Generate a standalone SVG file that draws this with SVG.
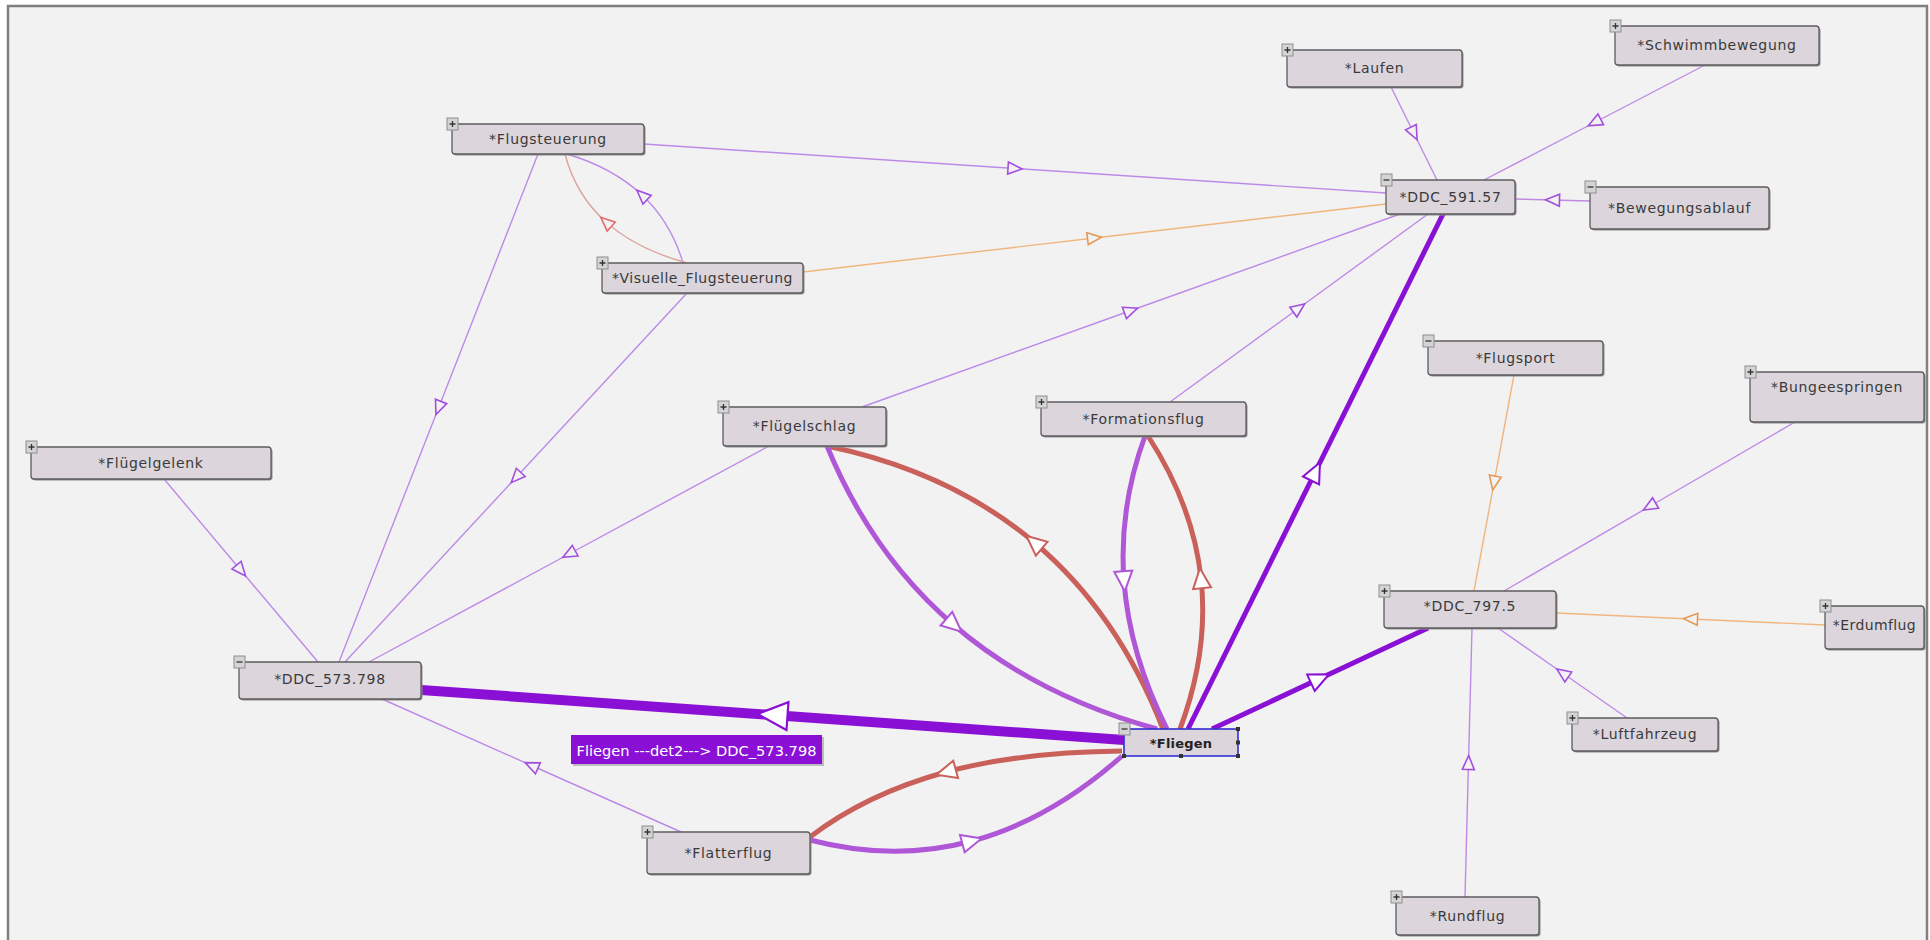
<svg xmlns="http://www.w3.org/2000/svg" width="1930" height="940" viewBox="0 0 1930 940">
  <style>
    .node rect.box { fill: #dcd5dc; stroke: #5c5c5c; stroke-width: 1.3; }
    .node rect.shadow { fill: #8c8c8c; }
    .node text { font-family: "DejaVu Sans", "Liberation Sans", sans-serif; font-size: 14px; fill: #3a3a3a; text-anchor: middle; letter-spacing: 0.7px; }
    .edge { fill: none; }
    .thin-purple { stroke: #bd8ae8; stroke-width: 1.4; marker-mid: url(#arrPurple); }
    .thin-orange { stroke: #f1b67e; stroke-width: 1.4; marker-mid: url(#arrOrange); }
    .thin-red { stroke: #dca3a0; stroke-width: 1.4; marker-mid: url(#arrRed); }
    .thick-dark { stroke: #8a10d6; stroke-width: 5; marker-mid: url(#arrDark); }
    .thick-sel { stroke: #8a10d6; stroke-width: 10; marker-mid: url(#arrBig); }
    .thick-red { stroke: #c9605a; stroke-width: 5; marker-mid: url(#arrThickRed); }
    .thick-lav { stroke: #b057d8; stroke-width: 5; marker-mid: url(#arrThickLav); }
  </style>
  <defs>
    <marker id="arrPurple" viewBox="-2 -2 18 16" refX="7" refY="6" markerWidth="18" markerHeight="16" markerUnits="userSpaceOnUse" orient="auto">
      <path d="M0,0 L14,6 L0,12 Z" fill="#f2f2f2" stroke="#a24fe0" stroke-width="1.6"/>
    </marker>
    <marker id="arrOrange" viewBox="-2 -2 18 16" refX="7" refY="6" markerWidth="18" markerHeight="16" markerUnits="userSpaceOnUse" orient="auto">
      <path d="M0,0 L14,6 L0,12 Z" fill="#f2f2f2" stroke="#e39a55" stroke-width="1.6"/>
    </marker>
    <marker id="arrRed" viewBox="-2 -2 18 16" refX="7" refY="6" markerWidth="18" markerHeight="16" markerUnits="userSpaceOnUse" orient="auto">
      <path d="M0,0 L14,6 L0,12 Z" fill="#f2f2f2" stroke="#e06b6b" stroke-width="1.6"/>
    </marker>
    <marker id="arrDark" viewBox="-2 -2 24 22" refX="10" refY="9" markerWidth="24" markerHeight="22" markerUnits="userSpaceOnUse" orient="auto">
      <path d="M0,0 L20,9 L0,18 Z" fill="#ffffff" stroke="#8a10d6" stroke-width="2"/>
    </marker>
    <marker id="arrThickRed" viewBox="-2 -2 24 22" refX="10" refY="9" markerWidth="24" markerHeight="22" markerUnits="userSpaceOnUse" orient="auto">
      <path d="M0,0 L20,9 L0,18 Z" fill="#ffffff" stroke="#c9605a" stroke-width="2"/>
    </marker>
    <marker id="arrThickLav" viewBox="-2 -2 24 22" refX="10" refY="9" markerWidth="24" markerHeight="22" markerUnits="userSpaceOnUse" orient="auto">
      <path d="M0,0 L20,9 L0,18 Z" fill="#ffffff" stroke="#b057d8" stroke-width="2"/>
    </marker>
    <marker id="arrBig" viewBox="-2 -2 34 32" refX="15" refY="14" markerWidth="34" markerHeight="32" markerUnits="userSpaceOnUse" orient="auto">
      <path d="M0,0 L30,14 L0,28 Z" fill="#ffffff" stroke="#8a10d6" stroke-width="2.2"/>
    </marker>
    <!-- expand / collapse toggles at the node corner -->
    <g id="plus">
      <rect x="-5" y="-6" width="11" height="12" fill="#d4d4d4" stroke="#8e8e8e" stroke-width="1"/>
      <path d="M-2.5,0 H3.5 M0.5,-3 V3" stroke="#333" stroke-width="1.3" fill="none"/>
    </g>
    <g id="minus">
      <rect x="-5" y="-6" width="11" height="12" fill="#d4d4d4" stroke="#8e8e8e" stroke-width="1"/>
      <path d="M-2.5,0 H3.5" stroke="#333" stroke-width="1.3" fill="none"/>
    </g>
  </defs>

  <!-- canvas panel -->
  <rect x="0" y="0" width="1930" height="940" fill="#ffffff"/>
  <rect x="8" y="6" width="1919" height="950" fill="#f2f2f2" stroke="#808080" stroke-width="2.5"/>

  <!-- connectors -->
  <g id="connectors">
    <!-- thin relations -->
    <polyline class="edge thin-purple" points="644,144 1015,168.5 1386,193"/>
    <path class="edge thin-purple" d="M683,263 Q671,222.25 642,195 Q613,167.75 567,154"/>
    <path class="edge thin-red" d="M687,263 Q636.5,249.25 606,222 Q575.5,194.75 565,154"/>
    <polyline class="edge thin-orange" points="803,272 1094.5,238 1386,204"/>
    <polyline class="edge thin-purple" points="538,154 438.5,408 339,662"/>
    <polyline class="edge thin-purple" points="687,293 516,477.5 345,662"/>
    <polyline class="edge thin-purple" points="769,446 569,554 369,662"/>
    <polyline class="edge thin-purple" points="164,479 241,570.5 318,662"/>
    <polyline class="edge thin-purple" points="681,832 531.5,765.5 382,699"/>
    <polyline class="edge thin-purple" points="862,407 1131,310.5 1400,214"/>
    <polyline class="edge thin-purple" points="1170,402 1299,308 1428,214"/>
    <polyline class="edge thin-purple" points="1391,87 1414,133.5 1437,180"/>
    <polyline class="edge thin-purple" points="1705,65 1594.5,122.5 1484,180"/>
    <polyline class="edge thin-purple" points="1590,201 1552.5,200 1515,199"/>
    <polyline class="edge thin-orange" points="1514,375 1494,483 1474,591"/>
    <polyline class="edge thin-purple" points="1795,422 1649.5,506.5 1504,591"/>
    <polyline class="edge thin-orange" points="1825,625 1690.5,619 1556,613"/>
    <polyline class="edge thin-purple" points="1627,718 1562.5,673 1498,628"/>
    <polyline class="edge thin-purple" points="1465,897 1468.5,762.5 1472,628"/>

    <!-- relations of *Fliegen -->
    <path class="edge thick-red" d="M1163,729 Q1118,613 1034,542.25 Q950,471.5 827,446"/>
    <path class="edge thick-lav" d="M827,446 Q871.5,554.5 954,625.25 Q1036.5,696 1157,729"/>
    <path class="edge thick-lav" d="M1145,436 Q1118.5,508 1124,581.25 Q1129.5,654.5 1167,729"/>
    <path class="edge thick-red" d="M1180,729 Q1209,651.5 1201,578.25 Q1193,505 1148,436"/>
    <path class="edge thick-red" d="M1122,751 Q1020,752 946,772 Q866,794 810,837"/>
    <path class="edge thick-lav" d="M810,840 Q894,862 972,841 Q1050,820 1122,756"/>
    <polyline class="edge thick-dark" points="1188,729 1315.5,471.5 1443,214"/>
    <polyline class="edge thick-dark" points="1212,729 1320,678.5 1428,628"/>
    <polyline class="edge thick-sel" points="1124,740 772.5,715 421,690"/>

    <!-- label of the selected relation -->
    <g id="edge-label">
      <rect x="573" y="737" width="251" height="29" fill="#9a9a9a" opacity="0.6"/>
      <rect x="571" y="735" width="251" height="29" fill="#8a10d6"/>
      <text x="696.5" y="755.5" font-family="DejaVu Sans, Liberation Sans, sans-serif" font-size="14" fill="#ffffff" text-anchor="middle" textLength="240" lengthAdjust="spacingAndGlyphs">Fliegen ---det2---&gt; DDC_573.798</text>
    </g>
  </g>

  <!-- nodes -->
  <g id="n-flugsteuerung" class="node">
    <rect class="shadow" x="453.5" y="125.5" width="192" height="30" rx="3"/>
    <rect class="box" x="452" y="124" width="192" height="30" rx="3"/>
    <text x="548" y="144">*Flugsteuerung</text>
    <use href="#plus" x="452" y="124"/>
  </g>
  <g id="n-visuelle-flugsteuerung" class="node">
    <rect class="shadow" x="603.5" y="264.5" width="201" height="30" rx="3"/>
    <rect class="box" x="602" y="263" width="201" height="30" rx="3"/>
    <text x="702.5" y="283" style="letter-spacing:0.5px">*Visuelle_Flugsteuerung</text>
    <use href="#plus" x="602" y="263"/>
  </g>
  <g id="n-fluegelschlag" class="node">
    <rect class="shadow" x="724.5" y="408.5" width="163" height="39" rx="3"/>
    <rect class="box" x="723" y="407" width="163" height="39" rx="3"/>
    <text x="804.5" y="431">*Flügelschlag</text>
    <use href="#plus" x="723" y="407"/>
  </g>
  <g id="n-formationsflug" class="node">
    <rect class="shadow" x="1042.5" y="403.5" width="205" height="34" rx="3"/>
    <rect class="box" x="1041" y="402" width="205" height="34" rx="3"/>
    <text x="1143.5" y="424">*Formationsflug</text>
    <use href="#plus" x="1041" y="402"/>
  </g>
  <g id="n-ddc-591-57" class="node">
    <rect class="shadow" x="1387.5" y="181.5" width="129" height="34" rx="3"/>
    <rect class="box" x="1386" y="180" width="129" height="34" rx="3"/>
    <text x="1450.5" y="202">*DDC_591.57</text>
    <use href="#minus" x="1386" y="180"/>
  </g>
  <g id="n-laufen" class="node">
    <rect class="shadow" x="1288.5" y="51.5" width="175" height="37" rx="3"/>
    <rect class="box" x="1287" y="50" width="175" height="37" rx="3"/>
    <text x="1374.5" y="73">*Laufen</text>
    <use href="#plus" x="1287" y="50"/>
  </g>
  <g id="n-schwimmbewegung" class="node">
    <rect class="shadow" x="1616.5" y="27.5" width="204" height="39" rx="3"/>
    <rect class="box" x="1615" y="26" width="204" height="39" rx="3"/>
    <text x="1717" y="50">*Schwimmbewegung</text>
    <use href="#plus" x="1615" y="26"/>
  </g>
  <g id="n-bewegungsablauf" class="node">
    <rect class="shadow" x="1591.5" y="188.5" width="179" height="42" rx="3"/>
    <rect class="box" x="1590" y="187" width="179" height="42" rx="3"/>
    <text x="1679.5" y="213">*Bewegungsablauf</text>
    <use href="#minus" x="1590" y="187"/>
  </g>
  <g id="n-flugsport" class="node">
    <rect class="shadow" x="1429.5" y="342.5" width="175" height="34" rx="3"/>
    <rect class="box" x="1428" y="341" width="175" height="34" rx="3"/>
    <text x="1515.5" y="363">*Flugsport</text>
    <use href="#minus" x="1428" y="341"/>
  </g>
  <g id="n-bungeespringen" class="node">
    <rect class="shadow" x="1751.5" y="373.5" width="174" height="50" rx="3"/>
    <rect class="box" x="1750" y="372" width="174" height="50" rx="3"/>
    <text x="1837" y="392">*Bungeespringen</text>
    <use href="#plus" x="1750" y="372"/>
  </g>
  <g id="n-ddc-797-5" class="node">
    <rect class="shadow" x="1385.5" y="592.5" width="172" height="37" rx="3"/>
    <rect class="box" x="1384" y="591" width="172" height="37" rx="3"/>
    <text x="1470" y="611">*DDC_797.5</text>
    <use href="#plus" x="1384" y="591"/>
  </g>
  <g id="n-erdumflug" class="node">
    <rect class="shadow" x="1826.5" y="607.5" width="99" height="43" rx="3"/>
    <rect class="box" x="1825" y="606" width="99" height="43" rx="3"/>
    <text x="1874.5" y="630" style="letter-spacing:0.4px">*Erdumflug</text>
    <use href="#plus" x="1825" y="606"/>
  </g>
  <g id="n-luftfahrzeug" class="node">
    <rect class="shadow" x="1573.5" y="719.5" width="146" height="33" rx="3"/>
    <rect class="box" x="1572" y="718" width="146" height="33" rx="3"/>
    <text x="1645" y="739">*Luftfahrzeug</text>
    <use href="#plus" x="1572" y="718"/>
  </g>
  <g id="n-rundflug" class="node">
    <rect class="shadow" x="1397.5" y="898.5" width="143" height="38" rx="3"/>
    <rect class="box" x="1396" y="897" width="143" height="38" rx="3"/>
    <text x="1467.5" y="921">*Rundflug</text>
    <use href="#plus" x="1396" y="897"/>
  </g>
  <g id="n-fluegelgelenk" class="node">
    <rect class="shadow" x="32.5" y="448.5" width="240" height="32" rx="3"/>
    <rect class="box" x="31" y="447" width="240" height="32" rx="3"/>
    <text x="151" y="468">*Flügelgelenk</text>
    <use href="#plus" x="31" y="447"/>
  </g>
  <g id="n-ddc-573-798" class="node">
    <rect class="shadow" x="240.5" y="663.5" width="182" height="37" rx="3"/>
    <rect class="box" x="239" y="662" width="182" height="37" rx="3"/>
    <text x="330" y="684">*DDC_573.798</text>
    <use href="#minus" x="239" y="662"/>
  </g>
  <g id="n-flatterflug" class="node">
    <rect class="shadow" x="648.5" y="833.5" width="163" height="42" rx="3"/>
    <rect class="box" x="647" y="832" width="163" height="42" rx="3"/>
    <text x="728.5" y="858">*Flatterflug</text>
    <use href="#plus" x="647" y="832"/>
  </g>
  <g id="n-fliegen" class="node">
    <rect class="box" x="1124" y="729" width="114" height="27" style="stroke:#2f2fd0;stroke-width:1.6"/>
    <text x="1181" y="748" style="font-weight:bold;font-size:13px;fill:#222;letter-spacing:0.2px">*Fliegen</text>
    <use href="#minus" x="1124" y="729"/>
    <g fill="#333">
      <rect x="1236" y="727" width="4" height="4"/>
      <rect x="1236" y="740.5" width="4" height="4"/>
      <rect x="1236" y="754" width="4" height="4"/>
      <rect x="1179" y="754" width="4" height="4"/>
      <rect x="1122" y="754" width="4" height="4"/>
    </g>
  </g>
</svg>
